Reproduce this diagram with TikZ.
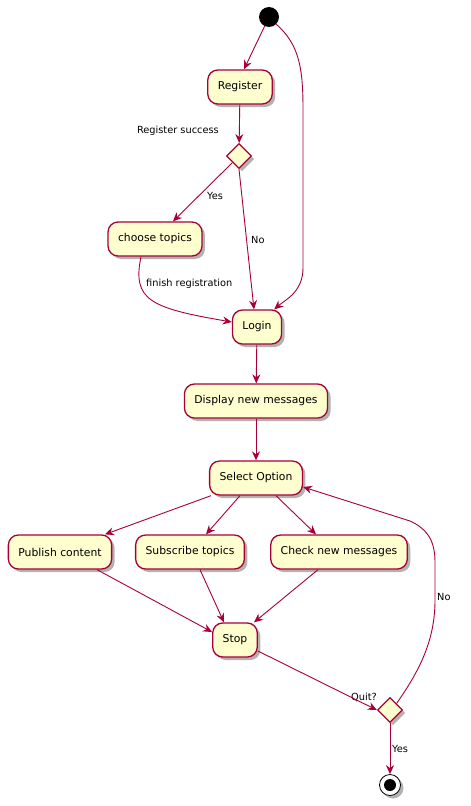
\documentclass[tikz,border=0pt]{standalone}
\usepackage{fontspec}
\setmainfont{DejaVu Sans}
\usepackage{xcolor}
\usetikzlibrary{shapes,arrows.meta,shadows,calc}
\definecolor{pred}{HTML}{A80036}
\definecolor{pfill}{HTML}{FEFECE}
\tikzstyle{l1}=[line width=0.9]
\tikzstyle{act}=[rectangle, rounded corners=10pt, draw=pred, fill=pfill, line width=1.3,
  minimum height=34pt, inner xsep=10pt, font=\fontsize{10.8}{13}\selectfont,
  drop shadow={shadow xshift=3pt, shadow yshift=-3pt, opacity=0.3, fill=black}]
\tikzstyle{cond}=[diamond, draw=pred, fill=pfill, line width=1.3, minimum size=25pt, inner sep=0pt,
  drop shadow={shadow xshift=3pt, shadow yshift=-3pt, opacity=0.3, fill=black}]
\tikzstyle{flow}=[l1, draw=pred, -{Stealth[length=9pt, width=8pt, inset=3pt]}]
\tikzstyle{lbl}=[inner sep=1pt, font=\fontsize{9.8}{12}\selectfont]

\begin{document}
\begin{tikzpicture}[x=1pt, y=-1pt]
    \useasboundingbox (0,0) rectangle (471,806);
    \node[circle, fill=black, minimum size=20pt, inner sep=0pt] at (269,17) (start) {};
    \node[act] at (240,87) (register) {Register};
    \node[cond] at (239,156) (d1) {};
    \node[lbl, anchor=east] at (220,131) (success) {Register success};
    \node[act] at (155,239) (choose) {choose topics};
    \node[act] at (257,327) (login) {Login};
    \node[act] at (256,401) (display) {Display new messages};
    \node[act] at (256,478) (select) {Select Option};
    \node[act] at (60,552) (publish) {Publish content};
    \node[act] at (190,552) (subscribe) {Subscribe topics};
    \node[act] at (339,552) (check) {Check new messages};
    \node[act] at (235,640) (stop) {Stop};
    \node[cond] at (390,710) (d2) {};
    \node[lbl, anchor=east] at (378,697) (quit) {Quit?};
    \node[circle, draw=black, fill=white, line width=0.8, minimum size=21pt, inner sep=0pt,
      drop shadow={shadow xshift=3pt, shadow yshift=-3pt, opacity=0.3, fill=black}] at (390,785) (end) {};
    \fill[black] (end) circle (6pt);

    % labels
    \node[lbl, anchor=west] at (206,196) (yes1) {Yes};
    \node[lbl, anchor=west] at (250,240) (no1) {No};
    \node[lbl, anchor=west] at (145,284) (finish) {finish registration};
    \node[lbl, anchor=west] at (436,597) (no2) {No};
    \node[lbl, anchor=west] at (391,749) (yes2) {Yes};

    % flows
    \draw[flow] (start) -- ([xshift=4pt]register.north);
    \draw[flow] (start.south east) .. controls (300,45) and (303,70) .. (303,110) -- (303,268)
      .. controls (303,292) and (285,300) .. ([xshift=-8pt]login.north east);
    \draw[flow] (register) -- (d1);
    \draw[flow] ($(d1.west)!0.5!(d1.south)$) -- ([xshift=18pt]choose.north);
    \draw[flow] (d1.south) -- ([xshift=-3pt]login.north);
    \draw[flow] ([xshift=-14pt]choose.south) .. controls (132,300) and (150,308) .. ([yshift=5pt]login.west);
    \draw[flow] (login) -- (display);
    \draw[flow] (display) -- (select);
    \draw[flow] ([xshift=-45pt]select.south) -- ([xshift=45pt]publish.north);
    \draw[flow] ([xshift=-16pt]select.south) -- ([xshift=16pt]subscribe.north);
    \draw[flow] ([xshift=20pt]select.south) -- ([xshift=-23pt]check.north);
    \draw[flow] ([xshift=37pt]publish.south) -- ([yshift=8pt]stop.west);
    \draw[flow] ([xshift=10pt]subscribe.south) -- ([xshift=-11pt]stop.north);
    \draw[flow] ([xshift=-21pt]check.south) -- ([xshift=19pt]stop.north);
    \draw[flow] ([yshift=-11pt]stop.east) -- (d2.west);
    \draw[flow] ($(d2.north)!0.5!(d2.east)$) .. controls (420,670) and (435,640) .. (435,600) -- (435,562)
      .. controls (435,538) and (425,528) .. (410,521) -- ([yshift=-9pt]select.east);
    \draw[flow] (d2) -- (end);
\end{tikzpicture}
\end{document}
